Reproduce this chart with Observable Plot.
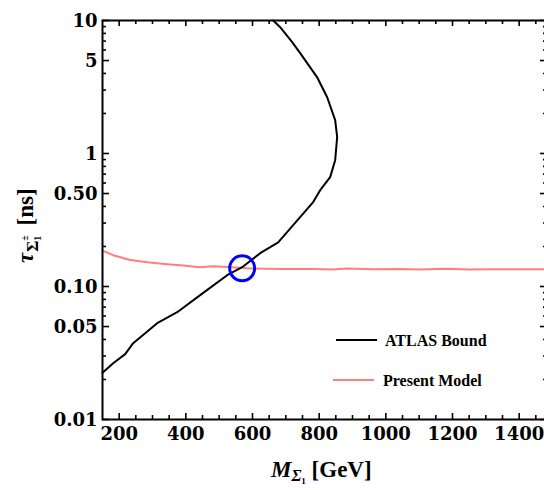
<!DOCTYPE html>
<html><head><meta charset="utf-8">
<script src="https://cdn.jsdelivr.net/npm/d3@7"></script>
<script src="https://cdn.jsdelivr.net/npm/@observablehq/plot@0.6"></script>
<style>
html,body{margin:0;padding:0;overflow:hidden;background:#fff;width:544px;height:490px}
#chart{position:relative;width:544px;height:490px;overflow:hidden}
#chart svg{position:absolute;left:0;top:0;max-width:none !important;width:552px;height:490px}
.lab{font-family:"Liberation Serif",serif;font-weight:bold;fill:#000}
</style></head><body><div id="chart"></div>
<script>
// ATLAS bound (curve turns back, so kept in drawing order)
const atlasMass = [150, 182, 218, 242, 314, 374, 443, 524, 569, 623, 677, 722, 782, 803, 833, 848, 854, 848, 824, 794, 743, 719, 683, 662];
const atlasTau  = [0.0225, 0.0265, 0.0310, 0.0375, 0.0530, 0.0641, 0.0861, 0.1216, 0.1396, 0.178, 0.215, 0.289, 0.431, 0.530, 0.664, 0.891, 1.33, 1.78, 2.65, 3.74, 5.68, 6.87, 8.9, 10];
// Present model
const modelMass = [150, 182, 233, 284, 344, 383, 443, 482, 524, 584, 683, 782, 842, 884, 962, 1040, 1100, 1180, 1250, 1320, 1400, 1485];
const modelTau  = [0.186, 0.172, 0.158, 0.152, 0.147, 0.1445, 0.1396, 0.142, 0.140, 0.137, 0.1355, 0.1355, 0.134, 0.1366, 0.135, 0.1355, 0.1345, 0.136, 0.1345, 0.135, 0.135, 0.1345];
// highlighted intersection
const circleMass = [569];
const circleTau  = [0.137];
// axes
const xDomain = [150, 1485];
const yDomain = [0.01, 10];
const xTicks = [200, 400, 600, 800, 1000, 1200, 1400];
const xMinor = [250, 300, 350, 450, 500, 550, 650, 700, 750, 850, 900, 950, 1050, 1100, 1150, 1250, 1300, 1350, 1450];
const yTicks = [0.01, 0.05, 0.1, 0.5, 1, 5, 10];
const yTickLabels = ["0.01", "0.05", "0.10", "0.50", "1", "5", "10"];
const yMinor = [0.02, 0.03, 0.04, 0.06, 0.07, 0.08, 0.09, 0.2, 0.3, 0.4, 0.6, 0.7, 0.8, 0.9, 2, 3, 4, 6, 7, 8, 9];
const legendLabels = ["ATLAS Bound", "Present Model"];
const seriesColors = ["#000000", "#ff7f7f"];

const atlas = atlasMass.map((m, i) => ({m, tau: atlasTau[i]}));
const model = modelMass.map((m, i) => ({m, tau: modelTau[i]}));
const circ = circleMass.map((m, i) => ({m, tau: circleTau[i]}));

const W = 552, H = 490, ML = 102, MR = 5, MT = 20, MB = 71;
const iw = W - ML - MR, ih = H - MT - MB;
const tickFont = {fontFamily: "DejaVu Serif", fontWeight: "bold", fontSize: 18, fill: "black"};
const tw = 1.6;

const plot = Plot.plot({
  width: W, height: H,
  marginLeft: ML, marginRight: MR, marginTop: MT, marginBottom: MB,
  x: {type: "linear", domain: xDomain, axis: null},
  y: {type: "log", domain: yDomain, axis: null},
  style: {background: "transparent", overflow: "visible", maxWidth: "none"},
  marks: [
    Plot.line(model, {x: "m", y: "tau", stroke: seriesColors[1], strokeWidth: 2}),
    Plot.line(atlas, {x: "m", y: "tau", stroke: seriesColors[0], strokeWidth: 2}),
    Plot.dot(circ, {x: "m", y: "tau", r: 12.5, stroke: "#0000ff", strokeWidth: 3, fill: "none"}),
    // inward ticks
    Plot.ruleX(xTicks, {x: d => d, insetTop: ih - 6, stroke: "black", strokeWidth: tw}),
    Plot.ruleX(xMinor, {x: d => d, insetTop: ih - 4, stroke: "black", strokeWidth: tw}),
    Plot.ruleX(xTicks, {x: d => d, insetBottom: ih - 6, stroke: "black", strokeWidth: tw}),
    Plot.ruleX(xMinor, {x: d => d, insetBottom: ih - 4, stroke: "black", strokeWidth: tw}),
    Plot.ruleY(yTicks, {y: d => d, insetRight: iw - 7, stroke: "black", strokeWidth: tw}),
    Plot.ruleY(yMinor, {y: d => d, insetRight: iw - 4, stroke: "black", strokeWidth: tw}),
    Plot.ruleY(yTicks, {y: d => d, insetLeft: iw - 7, stroke: "black", strokeWidth: tw}),
    Plot.ruleY(yMinor, {y: d => d, insetLeft: iw - 4, stroke: "black", strokeWidth: tw}),
    // tick labels
    Plot.text(xTicks, {x: d => d, text: d => String(d), frameAnchor: "bottom", lineAnchor: "top", dy: 8, ...tickFont}),
    Plot.text(yTicks, {y: d => d, text: (d, i) => yTickLabels[i], frameAnchor: "left", textAnchor: "end", dx: -5, dy: 1, ...tickFont}),
    Plot.frame({stroke: "black", strokeWidth: 2})
  ]
});
document.getElementById("chart").appendChild(plot);

const svg = d3.select(plot);
// x axis label
const xl = svg.append("text").attr("class", "lab").attr("text-anchor", "start").attr("x", 271).attr("y", 477).style("font-size", "23px");
xl.append("tspan").style("font-style", "italic").text("M");
xl.append("tspan").attr("dy", 4).style("font-size", "16px").style("font-style", "italic").text("Σ");
xl.append("tspan").attr("dy", 3).style("font-size", "9px").text("1");
xl.append("tspan").attr("dy", -7).text(" [GeV]");

// y axis label (rotated)
const yl = svg.append("text").attr("class", "lab").attr("text-anchor", "start").attr("transform", "translate(33,263) rotate(-90)").style("font-size", "23px");
yl.append("tspan").style("font-style", "italic").text("τ");
yl.append("tspan").attr("dx", 1).attr("dy", 5).style("font-size", "17px").text("Σ");
yl.append("tspan").attr("dy", 3).style("font-size", "10px").text("1");
yl.append("tspan").attr("dx", -5).attr("dy", -13).style("font-size", "10px").text("±");
yl.append("tspan").attr("dx", 4).attr("dy", 5).text(" [ns]");

// legend
const legY = [340, 380];
const legX = [[336, 377], [333, 374]];
const legTx = [385, 383];
legendLabels.forEach((t, i) => {
  svg.append("line").attr("x1", legX[i][0]).attr("x2", legX[i][1]).attr("y1", legY[i]).attr("y2", legY[i])
    .attr("stroke", seriesColors[i]).attr("stroke-width", 2);
  svg.append("text").attr("class", "lab").attr("text-anchor", "start").attr("x", legTx[i]).attr("y", legY[i] + 6)
    .style("font-size", "16px").text(t);
});
</script></body></html>
